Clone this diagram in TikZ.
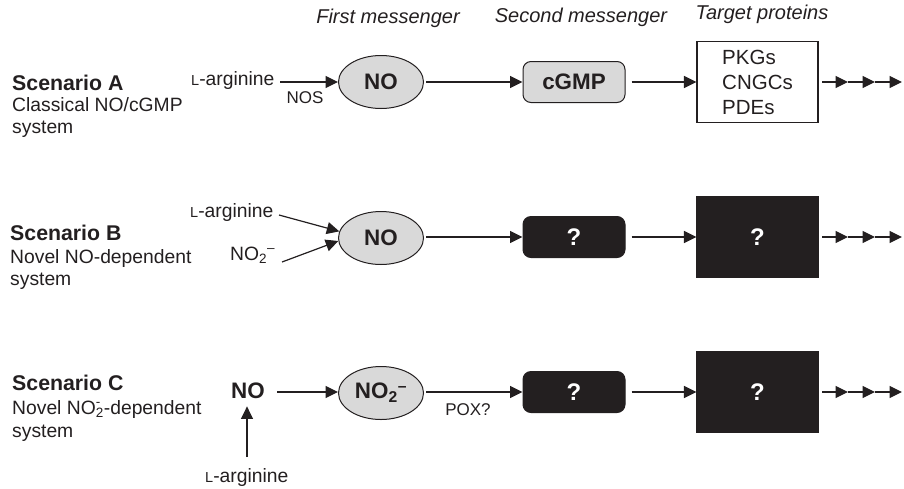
\documentclass[tikz,border=0pt]{standalone}
\usepackage{fontspec}
\setmainfont{Liberation Sans}
\usetikzlibrary{arrows.meta,shapes.geometric}
\definecolor{ink}{HTML}{231F20}
\definecolor{fillgray}{HTML}{D9D9D9}
\newcommand{\fmain}{\fontsize{19.3}{23}\selectfont}
\newcommand{\fsmall}{\fontsize{17}{20}\selectfont}
\newcommand{\fbig}{\fontsize{22.4}{26}\selectfont}
\newcommand{\scL}{{\fontsize{14.5}{15}\selectfont L}}
\begin{document}
\begin{tikzpicture}[x=1pt,y=-1pt,
  every node/.style={text=ink, inner sep=0pt},
  txt/.style={font=\fmain},
  hdr/.style={font=\fontsize{20}{24}\selectfont\itshape},
  scen/.style={font=\fontsize{21.3}{24}\selectfont\bfseries},
  lbl/.style={font=\fsmall},
  ell/.style={ellipse, draw=ink, fill=fillgray, line width=1pt,
    minimum width=85pt, minimum height=53pt, font=\fbig\bfseries},
  gbox/.style={rectangle, rounded corners=8pt, draw=ink, fill=fillgray, line width=1pt,
    minimum width=102pt, minimum height=41pt, font=\fbig\bfseries},
  qbox/.style={rectangle, rounded corners=8pt, draw=ink, fill=ink, line width=1pt,
    minimum width=102pt, minimum height=41pt, text=white, font=\fontsize{24}{28}\selectfont\bfseries},
  tbox/.style={rectangle, draw=ink, line width=1.1pt,
    minimum width=121pt, minimum height=81pt, font=\fontsize{20.5}{24}\selectfont},
  tqbox/.style={tbox, fill=ink, text=white, font=\fontsize{24}{28}\selectfont\bfseries},
  arr/.style={draw=ink, line width=1.2pt, -{Triangle[length=12.5pt,width=12pt]}},
]
\useasboundingbox (0,0) rectangle (904,488);

% headers
\node[hdr, anchor=base] (h1) at (388,23) {First messenger};
\node[hdr, anchor=base] (h2) at (581,22) {Second messenger};
\node[hdr, anchor=base] (h3) at (762,19) {Target proteins};

% scenario labels
\node[scen, anchor=base west] (sa1) at (12,90) {Scenario A};
\node[txt, anchor=base west] (sa2) at (12,111) {Classical NO/cGMP};
\node[txt, anchor=base west] (sa3) at (12,133) {system};
\node[scen, anchor=base west] (sb1) at (10,240) {Scenario B};
\node[txt, anchor=base west] (sb2) at (10,263) {Novel NO-dependent};
\node[txt, anchor=base west] (sb3) at (10,285) {system};
\node[scen, anchor=base west] (sc1) at (12,390) {Scenario C};
\node[txt, anchor=base west] (sc2) at (12,414) {Novel NO\rlap{\textsuperscript{-}}\textsubscript{2}-dependent};
\node[txt, anchor=base west] (sc3) at (12,437) {system};

% Row A
\node[txt, anchor=base west] (argA) at (191,85) {\scL-arginine};
\coordinate (sA) at (280,82);
\node[ell] (noA) at (381,82) {NO};
\node[lbl, anchor=base] (nos) at (305,103) {NOS};
\node[gbox] (cg) at (574,82) {cGMP};
\node[tbox, align=left] (tA) at (757.5,82) {PKGs\\[1pt]CNGCs\\[1pt]PDEs};
\coordinate (kA1) at (822,82);
\coordinate (kA2) at (848,82);
\coordinate (kA3) at (875,82);
\coordinate (kA4) at (902,82);
\draw[arr] (sA) -- (noA);
\draw[arr, shorten <=2pt] (noA) -- (cg);
\draw[arr, shorten <=6pt] (cg) -- (tA);
\draw[arr] (kA1) -- (kA2);
\draw[arr] (kA2) -- (kA3);
\draw[arr] (kA3) -- (kA4);

% Row B
\node[txt, anchor=base west] (argB) at (190,217) {\scL-arginine};
\node[txt, anchor=base west] (no2B) at (230,260) {NO\textsubscript{2}\textsuperscript{--}};
\coordinate (sB1) at (279,215);
\coordinate (sB2) at (282,262);
\node[ell] (noB) at (381,238) {NO};
\node[qbox] (qB) at (574,237) {?};
\node[tqbox] (tB) at (757.5,237) {?};
\coordinate (kB1) at (822,237);
\coordinate (kB2) at (848,237);
\coordinate (kB3) at (875,237);
\coordinate (kB4) at (902,237);
\draw[arr] (sB1) -- (noB.171);
\draw[arr] (sB2) -- (noB.184);
\draw[arr, shorten <=2pt] (noB.east |- qB) -- (qB);
\draw[arr, shorten <=6pt] (qB) -- (tB);
\draw[arr] (kB1) -- (kB2);
\draw[arr] (kB2) -- (kB3);
\draw[arr] (kB3) -- (kB4);

% Row C
\node[font=\fbig\bfseries, anchor=base] (noCt) at (248,398) {NO};
\coordinate (sC) at (277,392);
\coordinate (vC) at (247,457);
\node[txt, anchor=base west] (argC) at (205,482) {\scL-arginine};
\node[ell] (noC) at (381,393) {NO\textsubscript{2}\textsuperscript{--}};
\node[lbl, anchor=base] (pox) at (468,415) {POX?};
\node[qbox] (qC) at (574,392) {?};
\node[tqbox] (tC) at (757.5,392) {?};
\coordinate (kC1) at (822,392);
\coordinate (kC2) at (848,392);
\coordinate (kC3) at (875,392);
\coordinate (kC4) at (902,392);
\draw[arr] (sC) -- (sC -| noC.west);
\draw[arr, shorten >=8pt] (vC) -- (vC |- noCt.south);
\draw[arr, shorten <=2pt] (noC.east |- qC) -- (qC);
\draw[arr, shorten <=6pt] (qC) -- (tC);
\draw[arr] (kC1) -- (kC2);
\draw[arr] (kC2) -- (kC3);
\draw[arr] (kC3) -- (kC4);
\end{tikzpicture}
\end{document}
